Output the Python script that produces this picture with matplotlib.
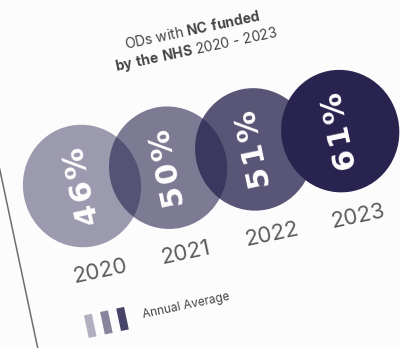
import numpy as np
import matplotlib.pyplot as plt
from matplotlib.patches import Circle, Rectangle
from matplotlib.transforms import Affine2D

plt.rcParams['font.family'] = ['Inter', 'DejaVu Sans']
plt.rcParams['mathtext.fontset'] = 'custom'
plt.rcParams['mathtext.rm'] = 'Inter'
plt.rcParams['mathtext.bf'] = 'Inter:bold'

years = ['2020', '2021', '2022', '2023']
share = [46, 50, 51, 61]
shade = [0.45, 0.6, 0.77, 1.0]
legend_shade = [0.35, 0.55, 0.85]

base = '#28234f'
tilt = 12
step = 88
radius = 59

fig = plt.figure(figsize=(4, 3.48), dpi=100, facecolor='#fcfcfc')
ax = fig.add_axes([0, 0, 1, 1])
ax.set_xlim(0, 400)
ax.set_ylim(0, 348)
ax.axis('off')

# the whole card is tilted, so everything is laid out flat and then rotated
tr = Affine2D().rotate_deg(tilt).translate(82, 162) + ax.transData
circ_tr = Affine2D().scale(1, 1.04).rotate_deg(tilt).translate(82, 162) + ax.transData

# card edge
ax.plot([-77, -77], [-300, 300], color='#6e6e6e', lw=1.1, transform=tr)

for i, (yr, v, a) in enumerate(zip(years, share, shade)):
    x = i * step
    ax.add_patch(Circle((x, 0), radius, color=base, alpha=a, lw=0, transform=circ_tr))
    label = '\u200a'.join(f'{v}%')
    ax.text(x, 0, label, transform=tr, rotation=tilt + 90,
            rotation_mode='anchor', ha='center', va='center',
            color='white', fontsize=22, fontweight='bold', family='DejaVu Sans')
    ax.text(x, -87, yr, transform=tr, rotation=tilt, rotation_mode='anchor',
            ha='center', va='center', color='#5c5c5c', fontsize=16)

ax.text(140, 130, r'ODs with $\mathbf{NC\ funded}$', transform=tr,
        rotation=tilt, rotation_mode='anchor', ha='center', va='center',
        color='#444444', fontsize=10)
ax.text(140, 109, r'$\mathbf{by\ the\ NHS}$ 2020 - 2023', transform=tr,
        rotation=tilt, rotation_mode='anchor', ha='center', va='center',
        color='#444444', fontsize=10)

# legend swatches
for j, a in enumerate(legend_shade):
    ax.add_patch(Rectangle((-25 + j * 16.5, -150), 8, 23, color=base, alpha=a,
                           lw=0, transform=tr))
ax.text(33, -139, 'Annual Average', transform=tr, rotation=tilt,
        rotation_mode='anchor', ha='left', va='center', color='#444444',
        fontsize=8.5)

fig.savefig('out.png', dpi=100, facecolor=fig.get_facecolor())
